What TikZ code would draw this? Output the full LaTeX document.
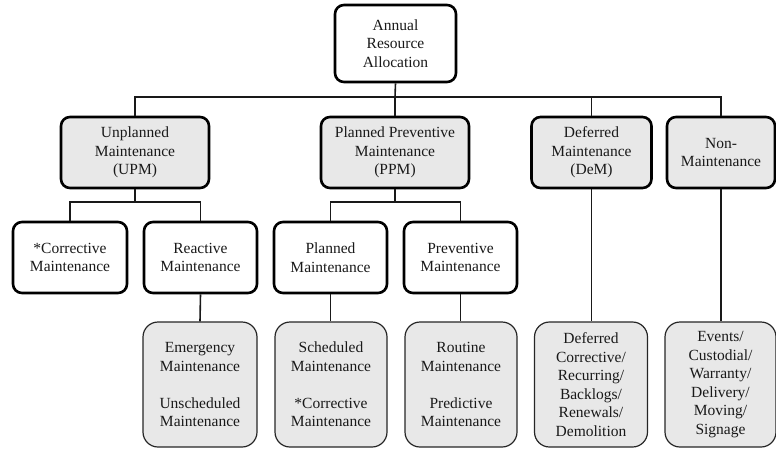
\documentclass[tikz,border=0pt]{standalone}
\usepackage{fontspec}
\setmainfont{Liberation Serif}
\begin{document}
\begin{tikzpicture}[x=1pt,y=-1pt,
  base/.style={align=center, inner sep=0pt, text=black!90,
    font=\fontsize{15.5}{18.5}\selectfont},
  headbox/.style={base, draw=black, line width=2.6pt, rounded corners=9pt,
    minimum height=71pt},
  greyhead/.style={headbox, fill=gray!18},
  whitehead/.style={headbox, fill=white},
  leafbox/.style={base, draw=black!85, line width=1.2pt, rounded corners=15pt,
    fill=gray!18, minimum height=125pt},
  link/.style={draw=black!90, line width=1.6pt}
]
\useasboundingbox (0,0) rectangle (776,448);

% root
\node[whitehead, minimum width=121pt, minimum height=77pt] (root) at (395.5,43.5)
  {Annual\\Resource\\Allocation};

% first level
\node[greyhead, minimum width=148pt] (upm) at (135,152.5) {Unplanned\\Maintenance\\(UPM)};
\node[greyhead, minimum width=148pt] (ppm) at (395,152.5) {Planned Preventive\\Maintenance\\(PPM)};
\node[greyhead, minimum width=120pt] (dem) at (591.5,152.5) {Deferred\\Maintenance\\(DeM)};
\node[greyhead, minimum width=108pt] (nonm) at (721,152.5) {Non-\\Maintenance};

% second level
\node[whitehead, minimum width=114pt] (corr) at (70,257.5) {*Corrective\\Maintenance};
\node[whitehead, minimum width=113pt] (react) at (200.5,257.5) {Reactive\\Maintenance};
\node[whitehead, minimum width=113pt] (plan) at (330.5,257.5) {Planned\\Maintenance};
\node[whitehead, minimum width=113pt] (prev) at (460.5,257.5) {Preventive\\Maintenance};

% leaves
\node[leafbox, minimum width=114pt] (emerg) at (200,384.5)
  {Emergency\\Maintenance\\[18.5pt]Unscheduled\\Maintenance};
\node[leafbox, minimum width=112pt] (sched) at (331,384.5)
  {Scheduled\\Maintenance\\[18.5pt]*Corrective\\Maintenance};
\node[leafbox, minimum width=112pt] (rout) at (461,384.5)
  {Routine\\Maintenance\\[18.5pt]Predictive\\Maintenance};
\node[leafbox, minimum width=113pt] (defer) at (591,384.5)
  {Deferred\\Corrective/\\Recurring/\\Backlogs/\\Renewals/\\Demolition};
\node[leafbox, minimum width=111pt] (events) at (720.5,384.5)
  {Events/\\Custodial/\\Warranty/\\Delivery/\\Moving/\\Signage};

% bus junctions
\coordinate (busA) at (395,97);
\coordinate (busU) at (135,202);
\coordinate (busP) at (395,202);

% connectors
\path[link] (root.south) -- (busA);
\path[link] (upm.north) |- (busA) -| (nonm.north);
\path[link] (busA) -- (ppm.north);
\path[link] (busA) -| (dem.north);

\path[link] (upm.south) -- (busU);
\path[link] (corr.north) |- (busU) -| (react.north);
\path[link] (ppm.south) -- (busP);
\path[link] (plan.north) |- (busP) -| (prev.north);

\path[link] (react.south) -- (emerg.north);
\path[link] (plan.south) -- (plan.south |- sched.north);
\path[link] (prev.south) -- (prev.south |- rout.north);
\path[link] (dem.south) -- (dem.south |- defer.north);
\path[link] (nonm.south) -- (nonm.south |- events.north);
\end{tikzpicture}
\end{document}
